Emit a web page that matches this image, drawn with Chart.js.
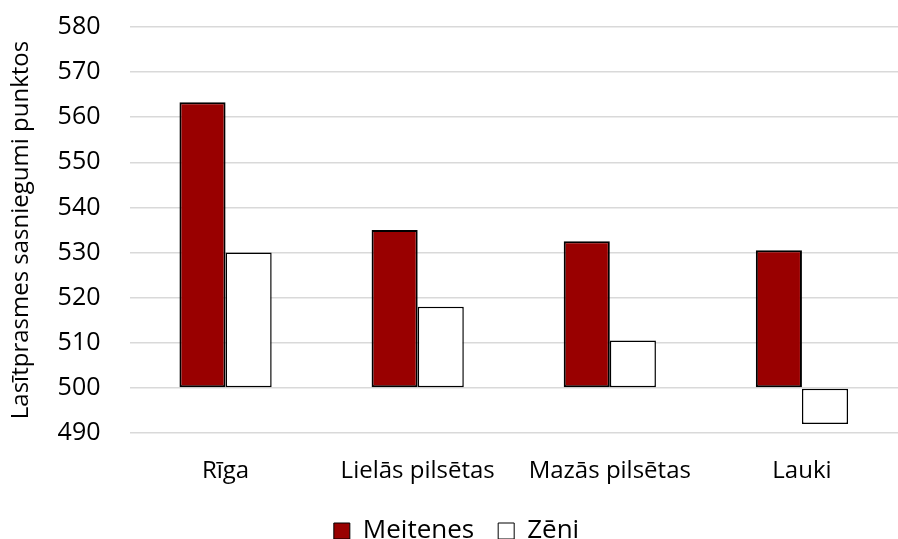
<!DOCTYPE html>
<html><head><meta charset="utf-8">
<script src="https://cdn.jsdelivr.net/npm/chart.js@4/dist/chart.umd.min.js"></script>
<style>html,body{margin:0;padding:0;background:#fff}#wrap{width:898px;height:539px}</style>
</head><body><div id="wrap"><canvas id="c"></canvas></div>
<script>
const categories = ["Rīga", "Lielās pilsētas", "Mazās pilsētas", "Lauki"];
const meitenes = [563.3, 535, 532.5, 530.5];
const zeni = [530, 518, 510.5, 492];
const seriesNames = ["Meitenes", "Zēni"];
const yTitle = "Lasītprasmes sasniegumi punktos";
const baseValue = 500;

const FONT = "'Open Sans', sans-serif";
const legendShift = {
  id: 'legendShift',
  afterLayout(chart){ if (chart.legend){ chart.legend.left -= 2; chart.legend.right -= 2; } }
};
new Chart(document.getElementById('c'), {
  type: 'bar',
  data: {
    labels: categories,
    datasets: [
      {label: seriesNames[0], data: meitenes, base: baseValue, backgroundColor: '#990000', borderColor: '#000', borderWidth: 2, borderSkipped: false, barPercentage: 1, categoryPercentage: 0.48},
      {label: seriesNames[1], data: zeni, base: baseValue, backgroundColor: '#ffffff', borderColor: '#000', borderWidth: 1.5, borderSkipped: false, barPercentage: 1, categoryPercentage: 0.48}
    ]
  },
  plugins: [legendShift],
  options: {
    responsive: true, maintainAspectRatio: false, animation: false,
    layout: {padding: {left: 7, right: -12, top: 27, bottom: -15}},
    plugins: {
      legend: {position: 'bottom', labels: {font: {family: FONT, size: 26}, color: '#000', boxWidth: 16, boxHeight: 16, padding: 24, useBorderRadius: false, generateLabels(chart){
        return chart.data.datasets.map((d,i)=>({text: d.label, fillStyle: d.backgroundColor, strokeStyle: '#000', lineWidth: 1, datasetIndex: i, fontColor:'#000'}));
      }}},
      tooltip: {enabled: false}
    },
    scales: {
      x: {grid: {display: false}, border: {display: false}, ticks: {font: {family: FONT, size: 24}, color: '#000', padding: 16},
          afterFit(axis){ axis.height = 61; axis.paddingLeft = 0; axis.paddingRight = 0; }},
      y: {min: 490, max: 580, ticks: {stepSize: 10, font: {family: FONT, size: 25}, color: '#000', padding: 29},
          grid: {color: '#d9d9d9', lineWidth: 1.5, drawTicks: false}, border: {display: false},
          title: {display: true, text: yTitle, font: {family: FONT, size: 24}, color: '#000', padding: {top: 0, bottom: 0}},
          afterFit(axis){ axis.width = 122.5; axis.paddingTop = 0; axis.paddingBottom = 0; }}
    }
  }
});
</script></body></html>
